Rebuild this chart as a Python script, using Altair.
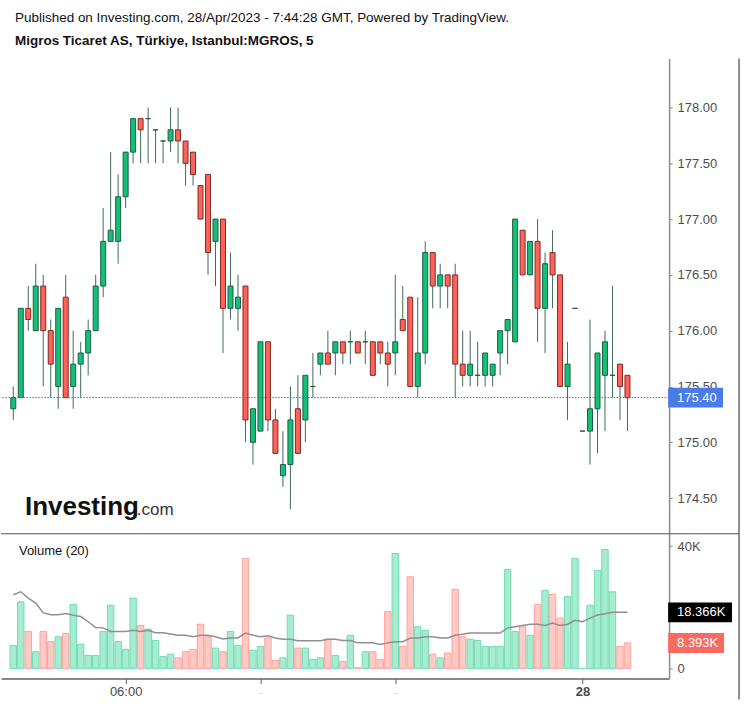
import altair as alt
import pandas as pd

# ---------------- data ----------------
opens = [175.3, 175.4, 176.2, 176.0, 176.4, 176.0, 175.5, 176.3, 175.5, 175.7,
         175.8, 176.0, 176.4, 176.8, 176.8, 177.2, 177.6, 177.9, 177.9, 177.8,
         177.7, 177.7, 177.8, 177.7, 177.6, 177.3, 177.4, 176.8, 177.0, 176.2,
         176.2, 176.4, 175.0, 175.1, 175.9, 175.2, 174.7, 174.8, 175.3, 175.2,
         175.5, 175.7, 175.8, 175.8, 175.9, 175.9, 175.9, 175.9, 175.9, 175.9,
         175.8, 175.8, 176.1, 176.3, 175.5, 175.8, 176.7, 176.4, 176.5, 176.5,
         175.7, 175.6, 175.6, 175.6, 175.6, 175.8, 176.0, 175.9, 176.9, 176.5,
         176.8, 176.2, 176.7, 176.5, 175.5, 176.2, 175.1, 175.1, 175.3, 175.6,
         175.6, 175.7, 175.6]
highs = [175.5, 176.2, 176.4, 176.6, 176.5, 176.1, 176.2, 176.5, 176.0, 175.9,
         176.1, 176.5, 177.1, 177.6, 177.4, 177.6, 177.9, 177.9, 178.0, 177.8,
         177.7, 178.0, 178.0, 177.7, 177.6, 177.3, 177.4, 177.0, 177.0, 176.7,
         176.5, 176.4, 175.3, 175.9, 175.9, 175.3, 175.1, 175.5, 175.6, 175.6,
         175.8, 175.8, 176.0, 175.9, 175.9, 176.0, 175.9, 176.0, 175.9, 175.9,
         175.9, 176.5, 176.4, 176.3, 176.3, 176.8, 176.7, 176.6, 176.5, 176.6,
         176.0, 176.0, 175.9, 175.8, 175.7, 176.0, 176.1, 177.0, 176.9, 176.8,
         177.0, 176.7, 176.9, 176.5, 175.9, 176.2, 175.1, 176.1, 175.8, 176.0,
         176.4, 175.7, 175.6]
lows = [175.2, 175.4, 176.0, 176.0, 175.5, 175.4, 175.3, 175.4, 175.3, 175.4,
        175.6, 176.0, 176.3, 176.8, 176.6, 177.1, 177.5, 177.5, 177.5, 177.5,
        177.5, 177.6, 177.5, 177.3, 177.3, 177.0, 176.5, 176.4, 175.8, 176.1,
        176.0, 175.0, 174.8, 175.1, 175.1, 174.9, 174.6, 174.4, 174.9, 175.0,
        175.4, 175.6, 175.7, 175.6, 175.7, 175.7, 175.8, 175.7, 175.6, 175.7,
        175.5, 175.6, 176.0, 175.5, 175.4, 175.7, 176.2, 176.2, 176.2, 175.4,
        175.5, 175.5, 175.5, 175.5, 175.5, 175.6, 175.7, 175.9, 176.5, 176.5,
        175.9, 175.8, 176.2, 175.5, 175.2, 176.2, 175.1, 174.8, 174.9, 175.1,
        175.4, 175.2, 175.1]
closes = [175.4, 176.2, 176.1, 176.4, 176.0, 175.7, 176.2, 175.4, 175.7, 175.8,
          176.0, 176.4, 176.8, 176.9, 177.2, 177.6, 177.9, 177.8, 177.9, 177.8,
          177.7, 177.8, 177.7, 177.5, 177.4, 177.0, 176.7, 177.0, 176.2, 176.4,
          176.3, 175.2, 175.3, 175.9, 175.2, 174.9, 174.8, 175.2, 174.9, 175.6,
          175.5, 175.8, 175.7, 175.9, 175.8, 175.9, 175.8, 175.9, 175.6, 175.8,
          175.7, 175.9, 176.0, 175.5, 175.8, 176.7, 176.4, 176.5, 176.4, 175.7,
          175.6, 175.7, 175.6, 175.8, 175.7, 176.0, 176.1, 177.0, 176.5, 176.8,
          176.2, 176.6, 176.5, 175.5, 175.7, 176.2, 175.1, 175.3, 175.8, 175.9,
          175.6, 175.5, 175.4]
volumes_k = [7.5, 21.8, 12.1, 5.5, 12.1, 8.8, 10.4, 11.5, 21.0, 8.0,
             4.3, 4.3, 12.1, 20.7, 8.8, 6.3, 23.0, 14.1, 12.9, 9.2,
             3.9, 4.7, 3.5, 5.5, 6.3, 14.5, 10.4, 6.7, 5.5, 12.1,
             7.6, 36.0, 6.0, 7.2, 10.0, 2.7, 3.5, 17.4, 6.7, 6.7,
             3.0, 3.5, 9.6, 4.3, 2.3, 10.9, 0.3, 5.5, 5.5, 3.0,
             18.6, 37.6, 7.2, 30.0, 13.7, 12.5, 4.7, 3.5, 5.1, 25.9,
             10.4, 9.6, 9.2, 7.2, 7.2, 7.2, 32.4, 12.1, 14.1, 10.9,
             21.0, 25.5, 24.2, 16.5, 23.5, 36.0, 0.1, 20.7, 32.1, 38.9,
             25.1, 7.2, 8.393]
vol_ma_k = [24.1, 25.1, 23.0, 21.4, 18.2, 17.6, 17.6, 18.0, 17.4, 17.0,
            15.3, 13.4, 13.3, 12.1, 12.1, 12.1, 12.5, 12.1, 12.5, 11.7,
            11.7, 11.3, 10.9, 10.9, 10.4, 10.9, 10.9, 10.4, 9.7, 10.0,
            10.0, 11.6, 10.9, 10.4, 10.7, 10.0, 9.6, 9.6, 9.1, 9.1,
            9.1, 9.1, 9.6, 9.6, 9.2, 9.2, 8.4, 8.4, 8.4, 7.9,
            8.4, 8.8, 8.8, 10.0, 10.0, 10.4, 10.4, 10.0, 10.0, 10.9,
            11.2, 11.6, 11.6, 11.6, 11.6, 11.6, 13.3, 13.7, 14.1, 14.5,
            14.5, 14.1, 14.9, 14.1, 14.5, 15.8, 15.3, 16.5, 17.5, 17.9,
            18.4, 18.4, 18.366]

price_ticks = [174.5, 175.0, 175.5, 176.0, 176.5, 177.0, 177.5, 178.0]
vol_ticks = [0, 20, 40]
time_tick_pos = [15, 33, 51, 76]
time_tick_labels = ["06:00", "_", "_", "28"]
last_price = 175.40

title_1 = "Published on Investing.com, 28/Apr/2023 - 7:44:28 GMT, Powered by TradingView."
title_2 = "Migros Ticaret AS, Türkiye, Istanbul:MGROS, 5"

df = pd.DataFrame({"i": list(range(len(opens))), "o": opens, "h": highs,
                   "l": lows, "c": closes, "v": volumes_k, "ma": vol_ma_k})

# ---------------- layout / styles ----------------
W, H1, H2 = 669, 476, 145
FONT = "Liberation Sans"
GREEN, GREEN_D = "#12c078", "#1f5c41"
RED, RED_D = "#ff6257", "#7d2a28"
WICK = "#3d6b55"
VGREEN, VGREEN_S = "#a6ecd0", "#72dbb2"
VRED, VRED_S = "#ffc9c5", "#ffa49e"
AXC = "#8c8c8c"

one = pd.DataFrame({"k": [0]})
up = "datum.c >= datum.o"
xs = alt.Scale(domain=[-1.64, 87.56], nice=False, zero=False, padding=0)
ys = alt.Scale(domain=[174.18, 178.44], nice=False, zero=False, padding=0)
vs = alt.Scale(domain=[-3.263, 44.05], nice=False, zero=False, padding=0)

lbl_map = "{" + ",".join(f"'{p}':'{t}'" for p, t in zip(time_tick_pos, time_tick_labels)) + "}"

# ---------------- price panel ----------------
wick = alt.Chart(df).mark_rule(color=WICK, strokeWidth=1).encode(
    x=alt.X("i:Q", scale=xs, axis=None),
    y=alt.Y("l:Q", scale=ys, title=None,
            axis=alt.Axis(orient="right", values=price_ticks, format=".2f",
                          grid=False, domainColor=AXC, domainWidth=1.5,
                          tickColor=AXC, tickSize=3, labelFontSize=13,
                          labelColor="#4d4d4d", labelPadding=5, labelFont=FONT)),
    y2="h:Q",
)
body = alt.Chart(df).mark_bar(width=5, strokeWidth=1).encode(
    x=alt.X("i:Q", scale=xs),
    y=alt.Y("o:Q", scale=ys),
    y2="c:Q",
    fill=alt.condition(up, alt.value(GREEN), alt.value(RED)),
    stroke=alt.condition(up, alt.value(GREEN_D), alt.value(RED_D)),
)
pdf = pd.DataFrame({"p": [last_price]})
pline = alt.Chart(pdf).mark_rule(color="#3a66ff", strokeWidth=1, strokeDash=[1.5, 1.5]).encode(
    y=alt.Y("p:Q", scale=ys))
pbox = alt.Chart(pdf).mark_rect(color="#4a7be8", yOffset=-10, y2Offset=10).encode(
    x=alt.value(668), x2=alt.value(723), y=alt.Y("p:Q", scale=ys), y2="p:Q")
ptext = alt.Chart(pdf).mark_text(text=f"{last_price:.2f}", align="left", baseline="middle",
                                 color="white", fontSize=13, font=FONT).encode(
    x=alt.value(677), y=alt.Y("p:Q", scale=ys))

t1 = alt.Chart(one).mark_text(text=title_1, align="left", baseline="alphabetic",
                              fontSize=13.5, font=FONT, color="#111111").encode(
    x=alt.value(14), y=alt.value(-36))
t2 = alt.Chart(one).mark_text(text=title_2, align="left", baseline="alphabetic",
                              fontSize=13.5, fontWeight="bold", font=FONT, color="#111111").encode(
    x=alt.value(14), y=alt.value(-13))
logo1 = alt.Chart(one).mark_text(text="Investing", align="left", baseline="alphabetic",
                                 fontSize=26, fontWeight="bold", font=FONT, color="#111111").encode(
    x=alt.value(24), y=alt.value(457))
logo2 = alt.Chart(one).mark_text(text=".com", align="left", baseline="alphabetic",
                                 fontSize=17, font=FONT, color="#333333").encode(
    x=alt.value(136), y=alt.value(457))
border1 = alt.Chart(one).mark_rule(color="#222222", strokeWidth=1).encode(
    x=alt.value(739), y=alt.value(0), y2=alt.value(H1))
frame1 = alt.Chart(one).mark_rect(opacity=0).encode(
    x=alt.value(0), x2=alt.value(747), y=alt.value(-58), y2=alt.value(0))

price = alt.layer(frame1, wick, body, pline, pbox, ptext, t1, t2, logo1, logo2, border1).properties(
    width=W, height=H1)

# ---------------- volume panel ----------------
vbars = alt.Chart(df).mark_bar(width=6.4, strokeWidth=1).encode(
    x=alt.X("i:Q", scale=xs, title=None,
            axis=alt.Axis(values=time_tick_pos, grid=False, labelExpr=f"{lbl_map}[datum.value+'']",
                          domainColor="#606060", domainWidth=1.5, tickColor="#606060",
                          tickSize=5, labelFontSize={"condition": {"test": "datum.value == 33 || datum.value == 51", "value": 7}, "value": 13},
                          labelFontWeight={"condition": {"test": "datum.value == 76", "value": "bold"}, "value": "normal"},
                          labelColor={"condition": {"test": "datum.value == 33 || datum.value == 51", "value": "#bbbbbb"}, "value": "#4a4a4a"},
                          labelPadding=2, labelFont=FONT)),
    y=alt.Y("v:Q", scale=vs, title=None,
            axis=alt.Axis(orient="right", values=vol_ticks, grid=False,
                          labelExpr="datum.value == 0 ? '0' : datum.value + 'K'",
                          domainColor=AXC, domainWidth=1.5, tickColor=AXC, tickSize=3,
                          labelFontSize=13, labelColor="#4d4d4d", labelPadding=5, labelFont=FONT)),
    y2=alt.datum(0),
    fill=alt.condition(up, alt.value(VGREEN), alt.value(VRED)),
    stroke=alt.condition(up, alt.value(VGREEN_S), alt.value(VRED_S)),
)
maline = alt.Chart(df).mark_line(color="#8f8f8f", strokeWidth=1.5).encode(
    x=alt.X("i:Q", scale=xs), y=alt.Y("ma:Q", scale=vs))

ma_last = vol_ma_k[-1]
v_last = volumes_k[-1]
madf = pd.DataFrame({"p": [ma_last]})
vldf = pd.DataFrame({"p": [v_last]})
mabox = alt.Chart(madf).mark_rect(color="#000000", yOffset=-10, y2Offset=10).encode(
    x=alt.value(668), x2=alt.value(732), y=alt.Y("p:Q", scale=vs), y2="p:Q")
matext = alt.Chart(madf).mark_text(text=f"{ma_last:.3f}K", align="left", baseline="middle",
                                   color="white", fontSize=13, font=FONT).encode(
    x=alt.value(677), y=alt.Y("p:Q", scale=vs))
vbox = alt.Chart(vldf).mark_rect(color="#f96b61", yOffset=-10, y2Offset=10).encode(
    x=alt.value(668), x2=alt.value(724), y=alt.Y("p:Q", scale=vs), y2="p:Q")
vtext = alt.Chart(vldf).mark_text(text=f"{v_last:.3f}K", align="left", baseline="middle",
                                  color="white", fontSize=13, font=FONT).encode(
    x=alt.value(677), y=alt.Y("p:Q", scale=vs))
vtitle = alt.Chart(one).mark_text(text="Volume (20)", align="left", baseline="alphabetic",
                                  fontSize=13, font=FONT, color="#111111").encode(
    x=alt.value(18), y=alt.value(21))
sep = alt.Chart(one).mark_rule(color="#555555", strokeWidth=1).encode(
    x=alt.value(0), x2=alt.value(739), y=alt.value(0))
border2 = alt.Chart(one).mark_rule(color="#222222", strokeWidth=1).encode(
    x=alt.value(739), y=alt.value(0), y2=alt.value(H2 + 21))
frame2 = alt.Chart(one).mark_rect(opacity=0).encode(
    x=alt.value(0), x2=alt.value(747), y=alt.value(H2), y2=alt.value(H2 + 28))

volume = alt.layer(frame2, vbars, maline, mabox, matext, vbox, vtext, vtitle, sep, border2).properties(
    width=W, height=H2)

chart = alt.vconcat(price, volume, spacing=0, bounds="flush").properties(
    padding=0, background="white"
).configure(font=FONT, view=alt.ViewConfig(stroke=None))

chart.save("out.html", embed_options={"renderer": "svg", "actions": False})
